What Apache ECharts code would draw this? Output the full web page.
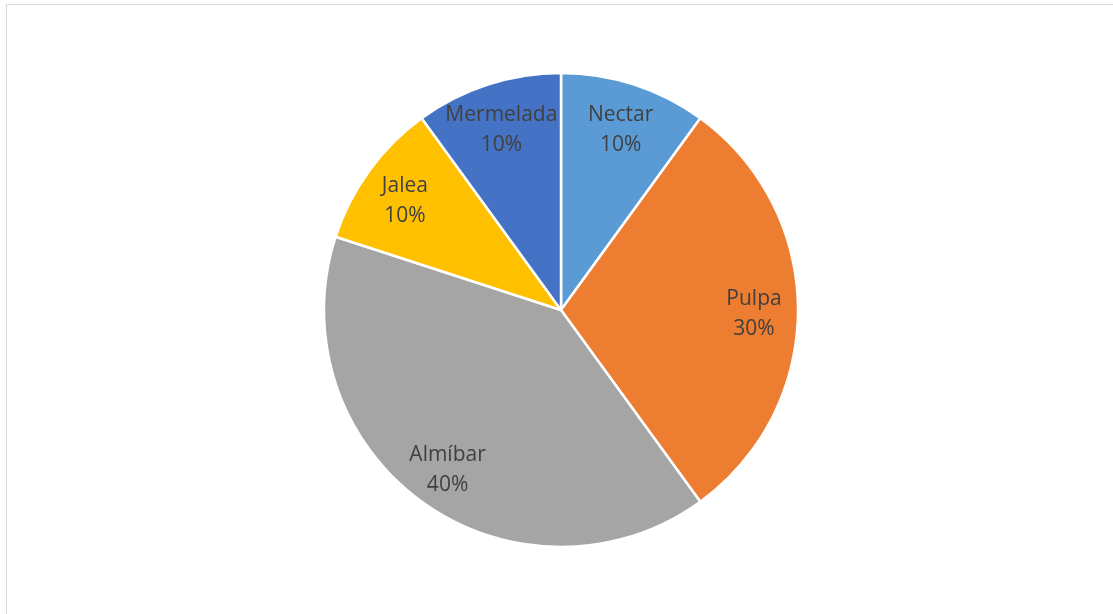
<!DOCTYPE html>
<html>
<head>
<meta charset="utf-8">
<script src="https://cdn.jsdelivr.net/npm/echarts@6/dist/echarts.min.js"></script>
<style>
html,body{margin:0;padding:0;background:#fff;}
#c{width:1113px;height:614px;}
</style>
</head>
<body>
<div id="c"></div>
<script>
const categories = ['Nectar', 'Pulpa', 'Almíbar', 'Jalea', 'Mermelada'];
const values = [10, 30, 40, 10, 10];
const colors = ['#5B9BD5', '#ED7D31', '#A5A5A5', '#FFC000', '#4472C4'];

const data = categories.map((c, i) => ({ name: c, value: values[i], itemStyle: { color: colors[i] } }));
const labelData = categories.map((c, i) => ({ name: c, value: values[i] }));

const chart = echarts.init(document.getElementById('c'), null, { renderer: 'canvas' });
chart.setOption({
  backgroundColor: '#fff',
  animation: false,
  graphic: [{
    type: 'rect',
    shape: { x: 6.5, y: 4.5, width: 1200, height: 700 },
    style: { fill: 'none', stroke: '#d9d9d9', lineWidth: 1 },
    silent: true
  }],
  series: [
    {
      type: 'pie',
      center: [561, 310],
      radius: [0, 237],
      startAngle: 90,
      clockwise: true,
      label: { show: false },
      labelLine: { show: false },
      itemStyle: { borderColor: '#fff', borderWidth: 2.5 },
      emphasis: { disabled: true },
      data: data
    },
    {
      type: 'pie',
      center: [561, 310],
      radius: [143, 237],
      startAngle: 90,
      clockwise: true,
      silent: true,
      itemStyle: { color: 'rgba(0,0,0,0)', borderWidth: 0 },
      label: {
        show: true,
        position: 'inside',
        formatter: p => p.name + '\n' + Math.round(p.percent) + '%',
        color: '#404040',
        fontFamily: 'Open Sans',
        fontSize: 21,
        lineHeight: 30,
        align: 'center',
        offset: [0, 4]
      },
      labelLine: { show: false },
      emphasis: { disabled: true },
      data: labelData
    }
  ]
});
</script>
</body>
</html>
